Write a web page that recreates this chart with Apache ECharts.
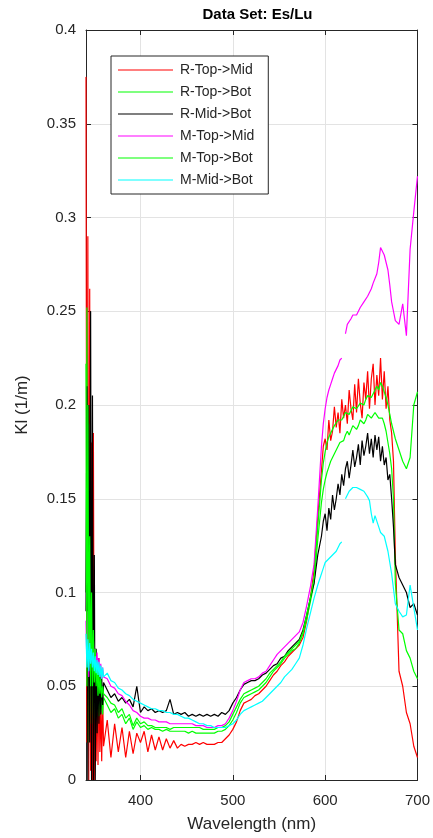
<!DOCTYPE html>
<html>
<head>
<meta charset="utf-8">
<script src="https://cdn.jsdelivr.net/npm/echarts@6/dist/echarts.min.js"></script>
<style>
  html, body { margin: 0; padding: 0; background: #ffffff; }
  #chart { width: 433px; height: 838px; }
</style>
</head>
<body>
<div id="chart"></div>
<script>
// Wavelength grid (nm): 1 nm through the noisy UV edge, 4 nm across the
// blue-green, 2 nm over the red peak, 4 nm to the end
const wavelength = [
  341, 342, 343, 344, 345, 346, 347, 348, 349, 350,
  351, 352, 353, 354, 355, 356, 357, 358, 359, 360,
  364, 368, 372, 376, 380, 384, 388, 392, 396, 400,
  404, 408, 412, 416, 420, 424, 428, 432, 436, 440,
  444, 448, 452, 456, 460, 464, 468, 472, 476, 480,
  484, 488, 492, 496, 500, 504, 508, 512, 516, 520,
  524, 528, 532, 536, 540, 544, 548, 552, 556, 560,
  564, 568, 572, 576, 580, 584, 588, 592,
  596, 598, 600, 602, 604, 606, 608, 610, 612, 614,
  616, 618, 620, 622, 624, 626, 628, 630, 632, 634,
  636, 638, 640, 642, 644, 646, 648, 650, 652, 654,
  656, 658, 660, 662, 664, 666, 668, 670, 672, 674,
  676,
  680, 684, 688, 692, 696, 700
];

const xTickValues = [400, 500, 600, 700];

const seriesNames = ['R-Top->Mid', 'R-Top->Bot', 'R-Mid->Bot', 'M-Top->Mid', 'M-Top->Bot', 'M-Mid->Bot'];

// Kl (1/m) for each profile pair, one value per wavelength above
const rTopMid = [
  0.375, 0.02, 0.29, 0.0, 0.262, 0.005, 0.18, 0.0, 0.185, 0.0,
  0.07, 0.01, 0.055, 0.008, 0.065, 0.015, 0.04, 0.01, 0.045, 0.018,
  0.032, 0.012, 0.03, 0.015, 0.028, 0.012, 0.026, 0.014, 0.025, 0.02,
  0.026, 0.015, 0.024, 0.016, 0.023, 0.016, 0.022, 0.017, 0.021, 0.017,
  0.019, 0.018, 0.019, 0.019, 0.02, 0.019, 0.02, 0.019, 0.019, 0.019,
  0.02, 0.02, 0.022, 0.024, 0.027, 0.031, 0.037, 0.041, 0.042, 0.043,
  0.045, 0.046, 0.048, 0.05, 0.053, 0.056, 0.058, 0.061, 0.063, 0.066,
  0.068, 0.07, 0.072, 0.076, 0.085, 0.097, 0.112, 0.14,
  0.165, 0.178, 0.182, 0.176, 0.192, 0.181, 0.186, 0.199, 0.188, 0.196,
  0.185, 0.203, 0.193, 0.2, 0.19, 0.208, 0.198, 0.192, 0.211, 0.196,
  0.214, 0.201, 0.193, 0.212, 0.203, 0.218, 0.198, 0.214, 0.222, 0.2,
  0.216, 0.205, 0.225, 0.203, 0.218, 0.198, 0.21, 0.192, 0.185, 0.17,
  0.12,
  0.058, 0.05, 0.036, 0.03, 0.018, 0.012
];

const rTopBot = [
  0.1, 0.252, 0.02, 0.19, 0.03, 0.124, 0.035, 0.09, 0.03, 0.07,
  0.033, 0.058, 0.036, 0.052, 0.034, 0.05, 0.036, 0.046, 0.035, 0.044,
  0.04, 0.036, 0.038, 0.033, 0.035, 0.03, 0.033, 0.027, 0.031, 0.028,
  0.029, 0.027, 0.028, 0.027, 0.027, 0.026, 0.027, 0.026, 0.026, 0.026,
  0.026, 0.026, 0.025, 0.026, 0.025, 0.025, 0.025, 0.025, 0.025, 0.025,
  0.026, 0.026, 0.027, 0.029, 0.032, 0.036, 0.041, 0.044, 0.045, 0.046,
  0.047, 0.048, 0.05, 0.052, 0.055, 0.058, 0.06, 0.062, 0.065, 0.067,
  0.069, 0.07, 0.073, 0.078, 0.086, 0.095, 0.105, 0.128,
  0.148, 0.155, 0.16, 0.164, 0.167, 0.17, 0.172, 0.174, 0.175, 0.178,
  0.18, 0.179, 0.181, 0.184, 0.186, 0.184, 0.185, 0.189, 0.19, 0.187,
  0.189, 0.192, 0.193, 0.19, 0.192, 0.195, 0.196, 0.193, 0.193, 0.196,
  0.197, 0.193, 0.192, 0.193, 0.19, 0.186, 0.18, 0.174, 0.166, 0.15,
  0.105,
  0.08, 0.078, 0.069, 0.065, 0.058, 0.054
];

const rMidBot = [
  0.09, 0.21, 0.0, 0.2, 0.02, 0.25, 0.0, 0.205, 0.0, 0.12,
  0.0, 0.07, 0.025, 0.065, 0.03, 0.06, 0.035, 0.055, 0.04, 0.052,
  0.048, 0.044, 0.046, 0.042, 0.044, 0.041, 0.043, 0.039, 0.05, 0.036,
  0.039, 0.037, 0.038, 0.036, 0.037, 0.036, 0.037, 0.043, 0.035, 0.036,
  0.035, 0.036, 0.034, 0.035, 0.034, 0.035, 0.034, 0.035, 0.034, 0.035,
  0.034, 0.036, 0.035, 0.037, 0.041, 0.044, 0.048, 0.051, 0.052, 0.053,
  0.053, 0.054, 0.056, 0.057, 0.059, 0.061, 0.062, 0.065, 0.066, 0.069,
  0.071, 0.073, 0.075, 0.08, 0.088, 0.097, 0.105, 0.12,
  0.13, 0.138, 0.142, 0.133, 0.145, 0.139, 0.152, 0.144, 0.15, 0.158,
  0.152, 0.163, 0.157, 0.166, 0.17, 0.161, 0.168, 0.176, 0.167, 0.172,
  0.179, 0.168, 0.181, 0.173, 0.178, 0.185, 0.174, 0.182, 0.172, 0.184,
  0.176, 0.183, 0.17, 0.178, 0.168, 0.172, 0.16, 0.163, 0.15, 0.135,
  0.115,
  0.108, 0.104, 0.1, 0.092, 0.094, 0.088
];

const mTopMid = [
  0.085, 0.06, 0.09, 0.055, 0.085, 0.06, 0.08, 0.058, 0.075, 0.06,
  0.07, 0.058, 0.068, 0.056, 0.065, 0.055, 0.062, 0.054, 0.06, 0.055,
  0.054, 0.05, 0.049, 0.046, 0.045, 0.042, 0.04, 0.037, 0.036, 0.034,
  0.033, 0.033, 0.032, 0.032, 0.031, 0.031, 0.031, 0.03, 0.03, 0.03,
  0.03, 0.03, 0.03, 0.03, 0.029, 0.029, 0.029, 0.028, 0.028, 0.028,
  0.029, 0.029, 0.03, 0.033, 0.037, 0.042, 0.048, 0.052, 0.053, 0.054,
  0.054, 0.055, 0.057, 0.058, 0.061, 0.064, 0.067, 0.069, 0.071, 0.073,
  0.075, 0.077, 0.079, 0.084, 0.093, 0.103, 0.115, 0.145,
  0.178, 0.19, 0.198, 0.204, 0.208, 0.211, 0.214, 0.217, 0.219, 0.221,
  0.224, 0.225, null, 0.238, 0.243, 0.244, 0.246, 0.248, 0.249, 0.248,
  0.25, 0.252, 0.253, 0.255, 0.256, 0.258, 0.259, 0.262, 0.265, 0.264,
  0.27, 0.276, 0.284, 0.283, 0.28, 0.276, 0.272, 0.264, 0.255, 0.25,
  0.245,
  0.243, 0.254, 0.237, 0.283, 0.303, 0.322
];

const mTopBot = [
  0.222, 0.05, 0.2, 0.06, 0.13, 0.05, 0.1, 0.05, 0.08, 0.052,
  0.07, 0.05, 0.062, 0.045, 0.058, 0.046, 0.054, 0.044, 0.05, 0.046,
  0.044, 0.041, 0.04, 0.036, 0.038, 0.033, 0.035, 0.029, 0.033, 0.03,
  0.031, 0.029, 0.029, 0.028, 0.028, 0.028, 0.028, 0.027, 0.028, 0.028,
  0.028, 0.028, 0.028, 0.028, 0.028, 0.028, 0.027, 0.027, 0.027, 0.027,
  0.028, 0.028, 0.029, 0.031, 0.035, 0.039, 0.043, 0.046, 0.047, 0.048,
  0.049, 0.05, 0.052, 0.054, 0.057, 0.059, 0.061, 0.063, 0.066, 0.068,
  0.07, 0.072, 0.074, 0.079, 0.088, 0.097, 0.108, 0.135,
  0.16, 0.169, 0.175, 0.18, 0.183, 0.185, 0.187, 0.189, 0.19, 0.192,
  0.193, 0.192, 0.194, 0.196, 0.197, 0.195, 0.197, 0.199, 0.2, 0.198,
  0.199, 0.201, 0.202, 0.2, 0.203, 0.205, 0.206, 0.204, 0.205, 0.208,
  0.21, 0.208, 0.212, 0.21, 0.207, 0.204, 0.2, 0.195, 0.19, 0.186,
  0.182,
  0.176, 0.17, 0.166, 0.172, 0.2, 0.207
];

const mMidBot = [
  0.078, 0.06, 0.075, 0.058, 0.073, 0.062, 0.07, 0.06, 0.068, 0.058,
  0.066, 0.057, 0.064, 0.056, 0.063, 0.055, 0.061, 0.054, 0.06, 0.055,
  0.057, 0.053, 0.052, 0.049, 0.048, 0.046, 0.045, 0.043, 0.042, 0.041,
  0.04, 0.039, 0.038, 0.038, 0.037, 0.037, 0.036, 0.036, 0.035, 0.035,
  0.034, 0.033, 0.033, 0.032, 0.031, 0.03, 0.03, 0.029, 0.029, 0.028,
  0.028, 0.028, 0.028, 0.029, 0.03, 0.032, 0.035, 0.037, 0.038, 0.039,
  0.04, 0.041, 0.042, 0.044, 0.046, 0.048, 0.05, 0.052, 0.055, 0.057,
  0.059, 0.062, 0.065, 0.072, 0.081, 0.089, 0.097, 0.104,
  0.11, 0.113, 0.116, 0.117, 0.118, 0.119, 0.12, 0.121, 0.122, 0.124,
  0.126, 0.127, null, 0.15, 0.152, 0.154, 0.155, 0.156, 0.157, 0.156,
  0.155, 0.155, 0.154, 0.154, 0.153, 0.151, 0.149, 0.142, 0.137, 0.141,
  0.14, 0.135, 0.132, 0.133, 0.13, 0.126, 0.122, 0.116, 0.11, 0.102,
  0.094,
  0.09, 0.087, 0.088, 0.104, 0.092, 0.08
];

const seriesValues = [rTopMid, rTopBot, rMidBot, mTopMid, mTopBot, mMidBot];
const lineColors = ['#ff0000', '#00ff00', '#000000', '#ff00ff', '#00ff00', '#00ffff'];

const FONT = "'Liberation Sans', Arial, Helvetica, sans-serif";
const INK = '#262626';
const GRID = '#e3e3e3';

const chart = echarts.init(document.getElementById('chart'), null, { renderer: 'canvas' });

function pairs(values) {
  return wavelength.map((w, i) => [w, values[i]]);
}

const xRange = { min: 341, max: 700 };
const yRange = { min: 0, max: 0.4, interval: 0.05 };

const axisLineStyle = { show: true, onZero: false, lineStyle: { color: INK, width: 1 } };
const yTick = { show: true, inside: true, length: 5, lineStyle: { color: INK } };
const xTick = { show: true, inside: true, length: 5, customValues: xTickValues, lineStyle: { color: INK } };

chart.setOption({
  animation: false,
  backgroundColor: '#ffffff',
  textStyle: { fontFamily: FONT },
  title: {
    text: 'Data Set: Es/Lu',
    left: 252.5,
    textAlign: 'center',
    top: 2,
    textStyle: { fontFamily: FONT, fontSize: 15, fontWeight: 'bold', color: '#000000' }
  },
  grid: { left: 86, right: 14, top: 30, bottom: 58, containLabel: false },
  legend: {
    orient: 'vertical',
    left: 111,
    top: 56,
    padding: [7, 14, 7, 7],
    itemWidth: 55,
    itemHeight: 14,
    itemGap: 8,
    icon: 'path://M0 0H50V1H0Z',
    backgroundColor: '#ffffff',
    borderColor: INK,
    borderWidth: 1,
    borderRadius: 0,
    data: seriesNames,
    textStyle: { fontFamily: FONT, fontSize: 14, color: INK, padding: [0, 0, 0, 2] }
  },
  xAxis: [
    {
      type: 'value',
      min: xRange.min,
      max: xRange.max,
      position: 'bottom',
      name: 'Wavelength (nm)',
      nameLocation: 'middle',
      nameGap: 36,
      nameTextStyle: { fontFamily: FONT, fontSize: 17, color: INK },
      axisLine: axisLineStyle,
      axisTick: xTick,
      axisLabel: { customValues: xTickValues, fontFamily: FONT, fontSize: 15, color: INK, margin: 13 },
      splitLine: { show: true, lineStyle: { color: GRID, width: 1 } }
    },
    {
      type: 'value',
      min: xRange.min,
      max: xRange.max,
      position: 'top',
      axisLine: axisLineStyle,
      axisTick: xTick,
      axisLabel: { show: false },
      splitLine: { show: false }
    }
  ],
  yAxis: [
    {
      type: 'value',
      min: yRange.min,
      max: yRange.max,
      interval: yRange.interval,
      position: 'left',
      name: 'Kl (1/m)',
      nameLocation: 'middle',
      nameGap: 55,
      nameTextStyle: { fontFamily: FONT, fontSize: 17, color: INK },
      axisLine: axisLineStyle,
      axisTick: yTick,
      axisLabel: { fontFamily: FONT, fontSize: 15, color: INK, margin: 10 },
      splitLine: { show: true, lineStyle: { color: GRID, width: 1 } }
    },
    {
      type: 'value',
      min: yRange.min,
      max: yRange.max,
      interval: yRange.interval,
      position: 'right',
      axisLine: axisLineStyle,
      axisTick: yTick,
      axisLabel: { show: false },
      splitLine: { show: false }
    }
  ],
  series: seriesNames.map((name, i) => ({
    name: name,
    type: 'line',
    xAxisIndex: 0,
    yAxisIndex: 0,
    data: pairs(seriesValues[i]),
    symbol: 'none',
    showSymbol: false,
    connectNulls: false,
    clip: true,
    lineStyle: { color: lineColors[i], width: 1.2 },
    itemStyle: { color: lineColors[i] },
    emphasis: { disabled: true }
  }))
});
</script>
</body>
</html>
